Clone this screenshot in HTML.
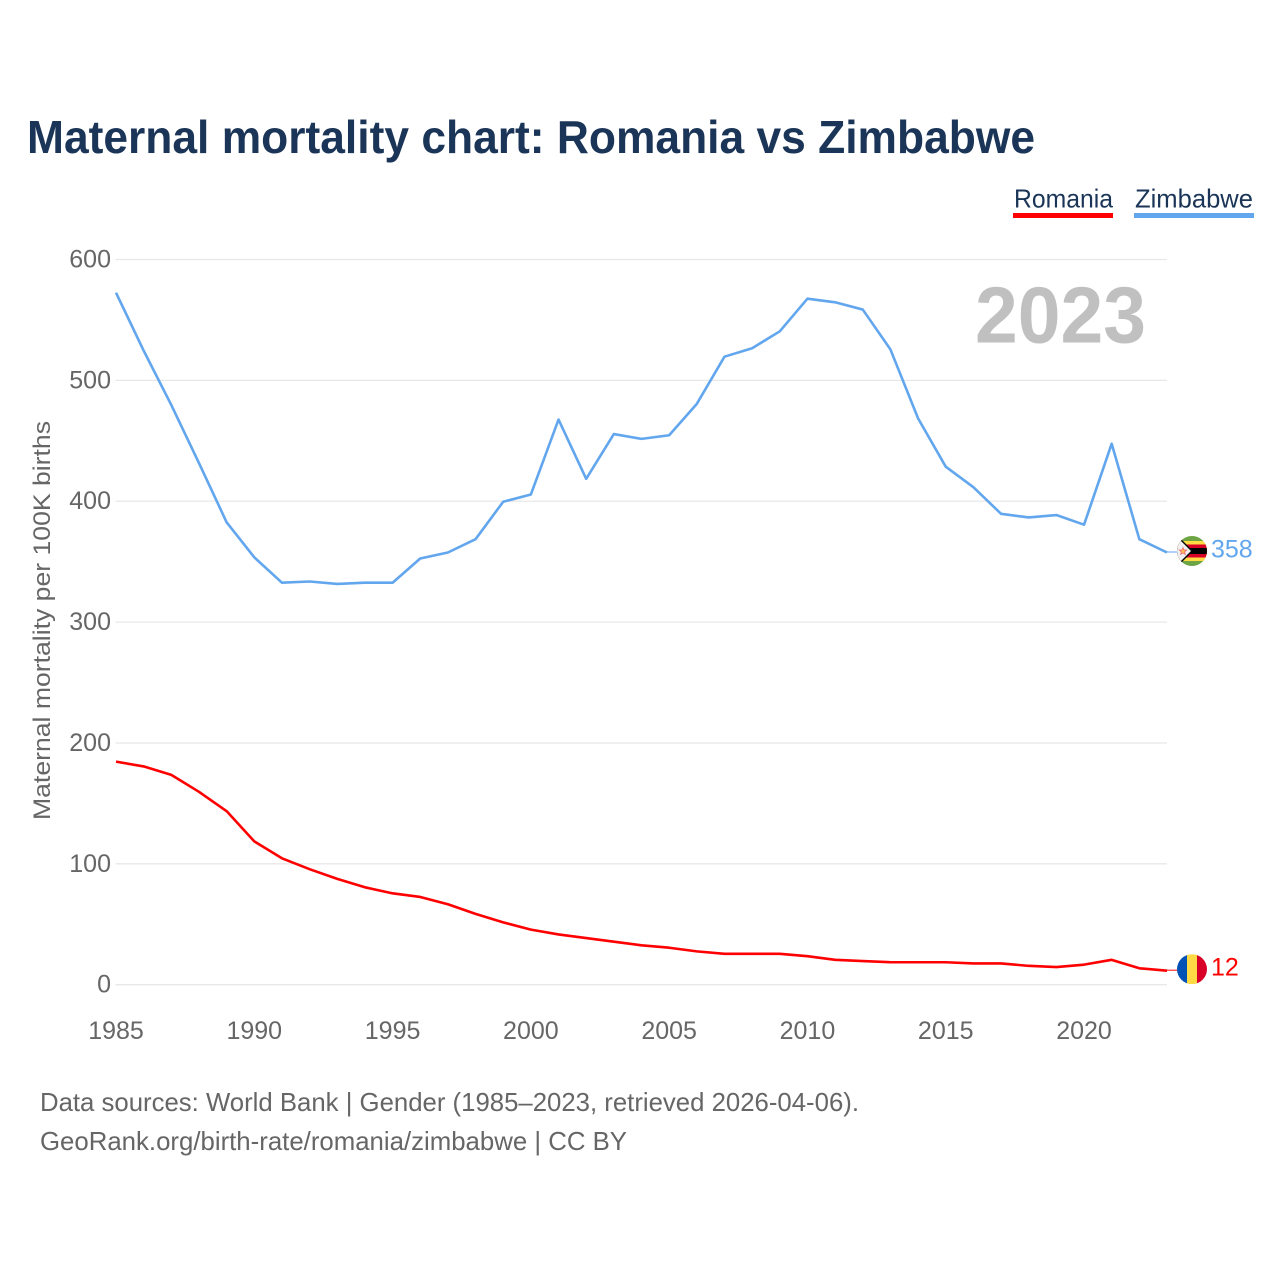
<!DOCTYPE html>
<html lang="en">
<head>
<meta charset="utf-8">
<title>Maternal mortality chart: Romania vs Zimbabwe</title>
<style>
html,body{margin:0;padding:0;background:#fff;}
svg{display:block;font-family:"Liberation Sans",Arial,sans-serif;}
</style>
</head>
<body>
<svg id="chart" xmlns="http://www.w3.org/2000/svg" width="1280" height="1280" viewBox="0 0 1280 1280">
  <rect x="0" y="0" width="1280" height="1280" fill="#ffffff"/>
  <text x="27" y="153" font-size="46" font-weight="700" fill="#1a3557" textLength="1008" lengthAdjust="spacingAndGlyphs">Maternal mortality chart: Romania vs Zimbabwe</text>

  <g>
    <text x="1014" y="207.5" font-size="26" fill="#1a3557" textLength="99" lengthAdjust="spacingAndGlyphs">Romania</text>
    <rect x="1013" y="213" width="100" height="5" fill="#ff0000"/>
  </g>
  <g>
    <text x="1135" y="207.5" font-size="26" fill="#1a3557" textLength="118" lengthAdjust="spacingAndGlyphs">Zimbabwe</text>
    <rect x="1134" y="213" width="120" height="5" fill="#62a6ee"/>
  </g>

  <g id="grid"></g>
  <text x="975" y="342.5" font-size="80" font-weight="700" fill="#c0c0c0" textLength="171" lengthAdjust="spacingAndGlyphs">2023</text>
  <g id="yticks"></g>
  <g id="xticks"></g>
  <text transform="translate(50,820) rotate(-90)" font-size="24" fill="#666666" textLength="399" lengthAdjust="spacingAndGlyphs">Maternal mortality per 100K births</text>

  <g id="series"></g>

  <defs>
    <clipPath id="flag-clip"><circle cx="0" cy="0" r="15"/></clipPath>
  </defs>

  <g id="flag-romania">
    <g clip-path="url(#flag-clip)">
      <rect x="-15" y="-15" width="10" height="30" fill="#0052b4"/>
      <rect x="-5" y="-15" width="10" height="30" fill="#ffda44"/>
      <rect x="5" y="-15" width="10" height="30" fill="#d80027"/>
    </g>
  </g>

  <g id="flag-zimbabwe">
    <g clip-path="url(#flag-clip)">
      <rect x="-15" y="-15" width="30" height="30" fill="#6da544"/>
      <rect x="-15" y="-10" width="30" height="20" fill="#ffda44"/>
      <rect x="-15" y="-6.5" width="30" height="13" fill="#d80027"/>
      <rect x="-15" y="-3" width="30" height="6" fill="#000000"/>
      <polygon points="-15,-15 -11,-12 1,0 -11,12 -15,15" fill="#000000"/>
      <polygon points="-15,-13 -12,-11 -1,0 -12,11 -15,13" fill="#f0f0f0"/>
      <polygon points="-9,-3.5 -8,-1 -5.2,-1 -7.4,0.8 -6.6,3.4 -9,1.9 -11.4,3.4 -10.6,0.8 -12.8,-1 -10,-1" fill="#ffc24a" stroke="#f06070" stroke-width="0.7"/>
    </g>
  </g>

  <text id="value-romania" x="1211" y="976" font-size="25" fill="#ff0000"></text>
  <text id="value-zimbabwe" x="1211" y="558" font-size="25" fill="#62a6ee"></text>

  <text x="40" y="1111" font-size="26" fill="#666666" textLength="819" lengthAdjust="spacingAndGlyphs">Data sources: World Bank | Gender (1985–2023, retrieved 2026-04-06).</text>
  <text x="40" y="1150" font-size="26" fill="#666666" textLength="587" lengthAdjust="spacingAndGlyphs">GeoRank.org/birth-rate/romania/zimbabwe | CC BY</text>
</svg>
<script>
const years = [1985,1986,1987,1988,1989,1990,1991,1992,1993,1994,1995,1996,1997,1998,1999,2000,2001,2002,2003,2004,2005,2006,2007,2008,2009,2010,2011,2012,2013,2014,2015,2016,2017,2018,2019,2020,2021,2022,2023];
const zimbabwe = [573,525,480,432,383,354,333,334,332,333,333,353,358,369,400,406,468,419,456,452,455,481,520,527,541,568,565,559,526,469,429,412,390,387,389,381,448,369,358];
const romania = [185,181,174,160,144,119,105,96,88,81,76,73,67,59,52,46,42,39,36,33,31,28,26,26,26,24,21,20,19,19,19,18,18,16,15,17,21,14,12];
const yTickValues = [0,100,200,300,400,500,600];
const xTickValues = [1985,1990,1995,2000,2005,2010,2015,2020];

const NS = 'http://www.w3.org/2000/svg';
const xScale = function (year) { return 116 + (year - 1985) * (1167 - 116) / 38; };
const yScale = function (value) { return 984.7 - value * (984.7 - 259.5) / 600; };

const gridGroup = document.getElementById('grid');
const yTickGroup = document.getElementById('yticks');
const xTickGroup = document.getElementById('xticks');
const seriesGroup = document.getElementById('series');

yTickValues.forEach(function (value) {
  const line = document.createElementNS(NS, 'line');
  
  
  line.setAttribute('x1', 115.5);
  line.setAttribute('x2', 1167);
  line.setAttribute('y1', yScale(value));
  line.setAttribute('y2', yScale(value));
  line.setAttribute('stroke', '#e8e8e8');
  line.setAttribute('stroke-width', 1.3);
  gridGroup.appendChild(line);

  const label = document.createElementNS(NS, 'text');
  
  
  label.setAttribute('x', 111);
  label.setAttribute('y', yScale(value) + 8);
  label.setAttribute('text-anchor', 'end');
  label.setAttribute('font-size', 25);
  label.setAttribute('fill', '#666666');
  label.textContent = value;
  yTickGroup.appendChild(label);
});

xTickValues.forEach(function (year) {
  const label = document.createElementNS(NS, 'text');
  
  
  label.setAttribute('x', xScale(year));
  label.setAttribute('y', 1039);
  label.setAttribute('text-anchor', 'middle');
  label.setAttribute('font-size', 25);
  label.setAttribute('fill', '#666666');
  label.textContent = year;
  xTickGroup.appendChild(label);
});

function drawSeries(values, color) {
  const points = values.map(function (value, i) {
    return xScale(years[i]).toFixed(2) + ',' + (yScale(value) + 0.5).toFixed(2);
  }).join(' ');
  const path = document.createElementNS(NS, 'polyline');
  path.setAttribute('points', points);
  path.setAttribute('fill', 'none');
  path.setAttribute('stroke', color);
  path.setAttribute('stroke-width', 2.6);
  path.setAttribute('stroke-linejoin', 'round');
  seriesGroup.appendChild(path);
  return path;
}

const romaniaLine = drawSeries(romania, '#ff0000');


const zimbabweLine = drawSeries(zimbabwe, '#62a6ee');



function finishEnd(values, color, flagId, valueId) {
  const last = values[values.length - 1];
  const y = yScale(last);
  const leader = document.createElementNS(NS, 'line');
  leader.setAttribute('x1', 1167);
  leader.setAttribute('x2', 1177);
  leader.setAttribute('y1', y);
  leader.setAttribute('y2', y);
  leader.setAttribute('stroke', color);
  leader.setAttribute('stroke-width', 1);
  seriesGroup.appendChild(leader);
  document.getElementById(flagId).setAttribute('transform', 'translate(1192,' + (y - 1) + ')');
  const text = document.getElementById(valueId);
  text.setAttribute('y', y + 5.5);
  text.textContent = last;
  return leader;
}

const romaniaLeader = finishEnd(romania, '#ff0000', 'flag-romania', 'value-romania');


const zimbabweLeader = finishEnd(zimbabwe, '#62a6ee', 'flag-zimbabwe', 'value-zimbabwe');


</script>
</body>
</html>
